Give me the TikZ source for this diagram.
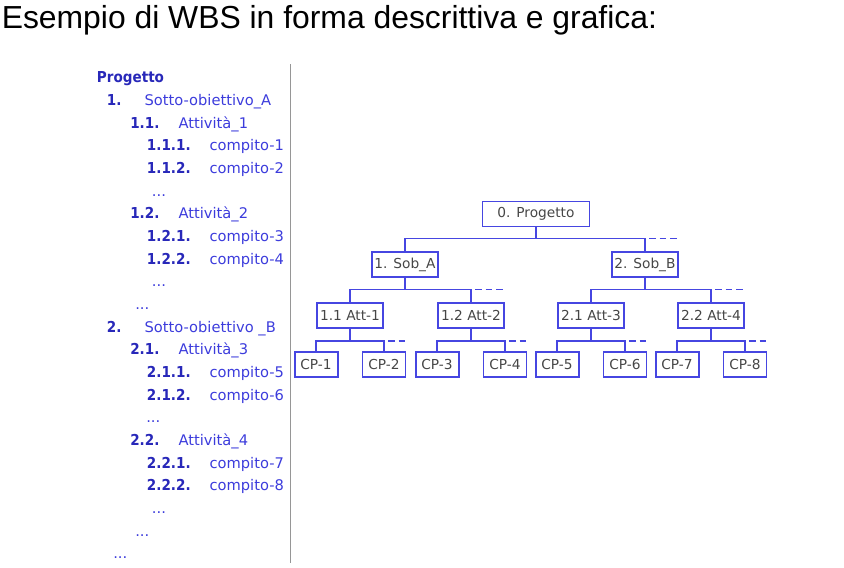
\documentclass[tikz,border=0pt]{standalone}
\usepackage{fontspec}
\setmainfont{Liberation Sans}
\newfontfamily\tah{DejaVu Sans}
\newfontfamily\tahc{DejaVu Sans Condensed}
\definecolor{boxblue}{RGB}{70,70,225}
\definecolor{numblue}{RGB}{40,40,185}
\definecolor{txtblue}{RGB}{60,60,220}
\definecolor{boxtxt}{RGB}{70,70,70}
\definecolor{sepgray}{RGB}{150,150,150}
\tikzset{
  wbs/.style={draw=boxblue, line width=1.45pt, inner sep=0pt, minimum height=18.75pt, font=\tah\fontsize{10.3}{11}\selectfont, text=boxtxt},
  wide/.style={wbs, minimum width=49.5pt},
  cp/.style={wbs, minimum width=32.25pt},
  conn/.style={draw=boxblue, line width=1.45pt},
  dashconn/.style={conn, dash pattern=on 5pt off 3pt, dash phase=5pt},
  num/.style={anchor=base west, inner sep=0pt, text=numblue, font=\tahc\bfseries\fontsize{11.3}{12}\selectfont},
  lbl/.style={anchor=base west, inner sep=0pt, text=txtblue, font=\tah\fontsize{11}{12}\selectfont},
}
\begin{document}
\begin{tikzpicture}[x=0.75pt,y=-0.75pt]
\useasboundingbox (0,0) rectangle (844,568);
% title
\node[anchor=base west, inner sep=0pt, font=\fontsize{23.9}{26}\selectfont] (title) at (1.5,28.3) {Esempio di WBS in forma descrittiva e grafica:};
% separator
\draw[sepgray, line width=1.4pt] (290.5,64) coordinate (s1) -- (290.5,563) coordinate (s2);
% left list
\def\bl#1{82.7+22.67*#1}
\node[num] (l0) at (96.7,{\bl{0}}) {Progetto};
\node[num] (l1n) at (106.7,{\bl{1}}) {1.};  \node[lbl] (l1t) at (144.3,{\bl{1}}) {Sotto-obiettivo\_A};
\node[num] (l2n) at (130,{\bl{2}}) {1.1.};  \node[lbl] (l2t) at (178.3,{\bl{2}}) {Attività\_1};
\node[num] (l3n) at (146.7,{\bl{3}}) {1.1.1.};  \node[lbl] (l3t) at (209.3,{\bl{3}}) {compito-1};
\node[num] (l4n) at (146.7,{\bl{4}}) {1.1.2.};  \node[lbl] (l4t) at (209.3,{\bl{4}}) {compito-2};
\node[lbl] (l5) at (151.7,{\bl{5}}) {...};
\node[num] (l6n) at (130,{\bl{6}}) {1.2.};  \node[lbl] (l6t) at (178.3,{\bl{6}}) {Attività\_2};
\node[num] (l7n) at (146.7,{\bl{7}}) {1.2.1.};  \node[lbl] (l7t) at (209.3,{\bl{7}}) {compito-3};
\node[num] (l8n) at (146.7,{\bl{8}}) {1.2.2.};  \node[lbl] (l8t) at (209.3,{\bl{8}}) {compito-4};
\node[lbl] (l9) at (151.7,{\bl{9}}) {...};
\node[lbl] (l10) at (135,{\bl{10}}) {...};
\node[num] (l11n) at (106.7,{\bl{11}}) {2.};  \node[lbl] (l11t) at (144.3,{\bl{11}}) {Sotto-obiettivo \_B};
\node[num] (l12n) at (130,{\bl{12}}) {2.1.};  \node[lbl] (l12t) at (178.3,{\bl{12}}) {Attività\_3};
\node[num] (l13n) at (146.7,{\bl{13}}) {2.1.1.};  \node[lbl] (l13t) at (209.3,{\bl{13}}) {compito-5};
\node[num] (l14n) at (146.7,{\bl{14}}) {2.1.2.};  \node[lbl] (l14t) at (209.3,{\bl{14}}) {compito-6};
\node[lbl] (l15) at (146,{\bl{15}}) {...};
\node[num] (l16n) at (130,{\bl{16}}) {2.2.};  \node[lbl] (l16t) at (178.3,{\bl{16}}) {Attività\_4};
\node[num] (l17n) at (146.7,{\bl{17}}) {2.2.1.};  \node[lbl] (l17t) at (209.3,{\bl{17}}) {compito-7};
\node[num] (l18n) at (146.7,{\bl{18}}) {2.2.2.};  \node[lbl] (l18t) at (209.3,{\bl{18}}) {compito-8};
\node[lbl] (l19) at (151.7,{\bl{19}}) {...};
\node[lbl] (l20) at (135,{\bl{20}}) {...};
\node[lbl] (l21) at (113,{\bl{21}}) {...};
% chart boxes
\node[wbs, minimum width=80.25pt] (P0) at (536,214) {0. Progetto};
\node[wide] (SA) at (405,264.5) {1. Sob\_A};
\node[wide] (SB) at (645,264.5) {2. Sob\_B};
\node[wide] (A1) at (350,315.5) {1.1 Att-1};
\node[wide] (A2) at (471,315.5) {1.2 Att-2};
\node[wide] (A3) at (591,315.5) {2.1 Att-3};
\node[wide] (A4) at (711,315.5) {2.2 Att-4};
\node[cp] (C1) at (A1.west |- 0,364.5) {CP-1};
\node[cp] (C2) at (A1.east |- 0,364.5) {CP-2};
\node[cp] (C3) at (A2.west |- 0,364.5) {CP-3};
\node[cp] (C4) at (A2.east |- 0,364.5) {CP-4};
\node[cp] (C5) at (A3.west |- 0,364.5) {CP-5};
\node[cp] (C6) at (A3.east |- 0,364.5) {CP-6};
\node[cp] (C7) at (A4.west |- 0,364.5) {CP-7};
\node[cp] (C8) at (A4.east |- 0,364.5) {CP-8};
% bus levels
\coordinate (h0) at (0,238.5);
\coordinate (h1) at (0,289.5);
\coordinate (h2) at (0,341);
% connectors
\draw[conn] (P0.south) -- (P0.south |- h0);
\draw[conn] (SA.north) -- (SA.north |- h0) -- (SB.north |- h0) -- (SB.north);
\draw[dashconn] (SB.north |- h0) -- ++(32,0) coordinate (d0);
\foreach \s/\a/\b in {SA/A1/A2, SB/A3/A4}{
  \draw[conn] (\s.south) -- (\s.south |- h1);
  \draw[conn] (\a.north) -- (\a.north |- h1) -- (\b.north |- h1) -- (\b.north);
  \draw[dashconn] (\b.north |- h1) -- ++(32,0);
}
\foreach \a/\c/\d in {A1/C1/C2, A2/C3/C4, A3/C5/C6, A4/C7/C8}{
  \draw[conn] (\a.south) -- (\a.south |- h2);
  \draw[conn] (\c.north) -- (\c.north |- h2) -- (\d.north |- h2) -- (\d.north);
  \draw[dashconn] (\d.north |- h2) -- ++(22,0);
}
\end{tikzpicture}
\end{document}
